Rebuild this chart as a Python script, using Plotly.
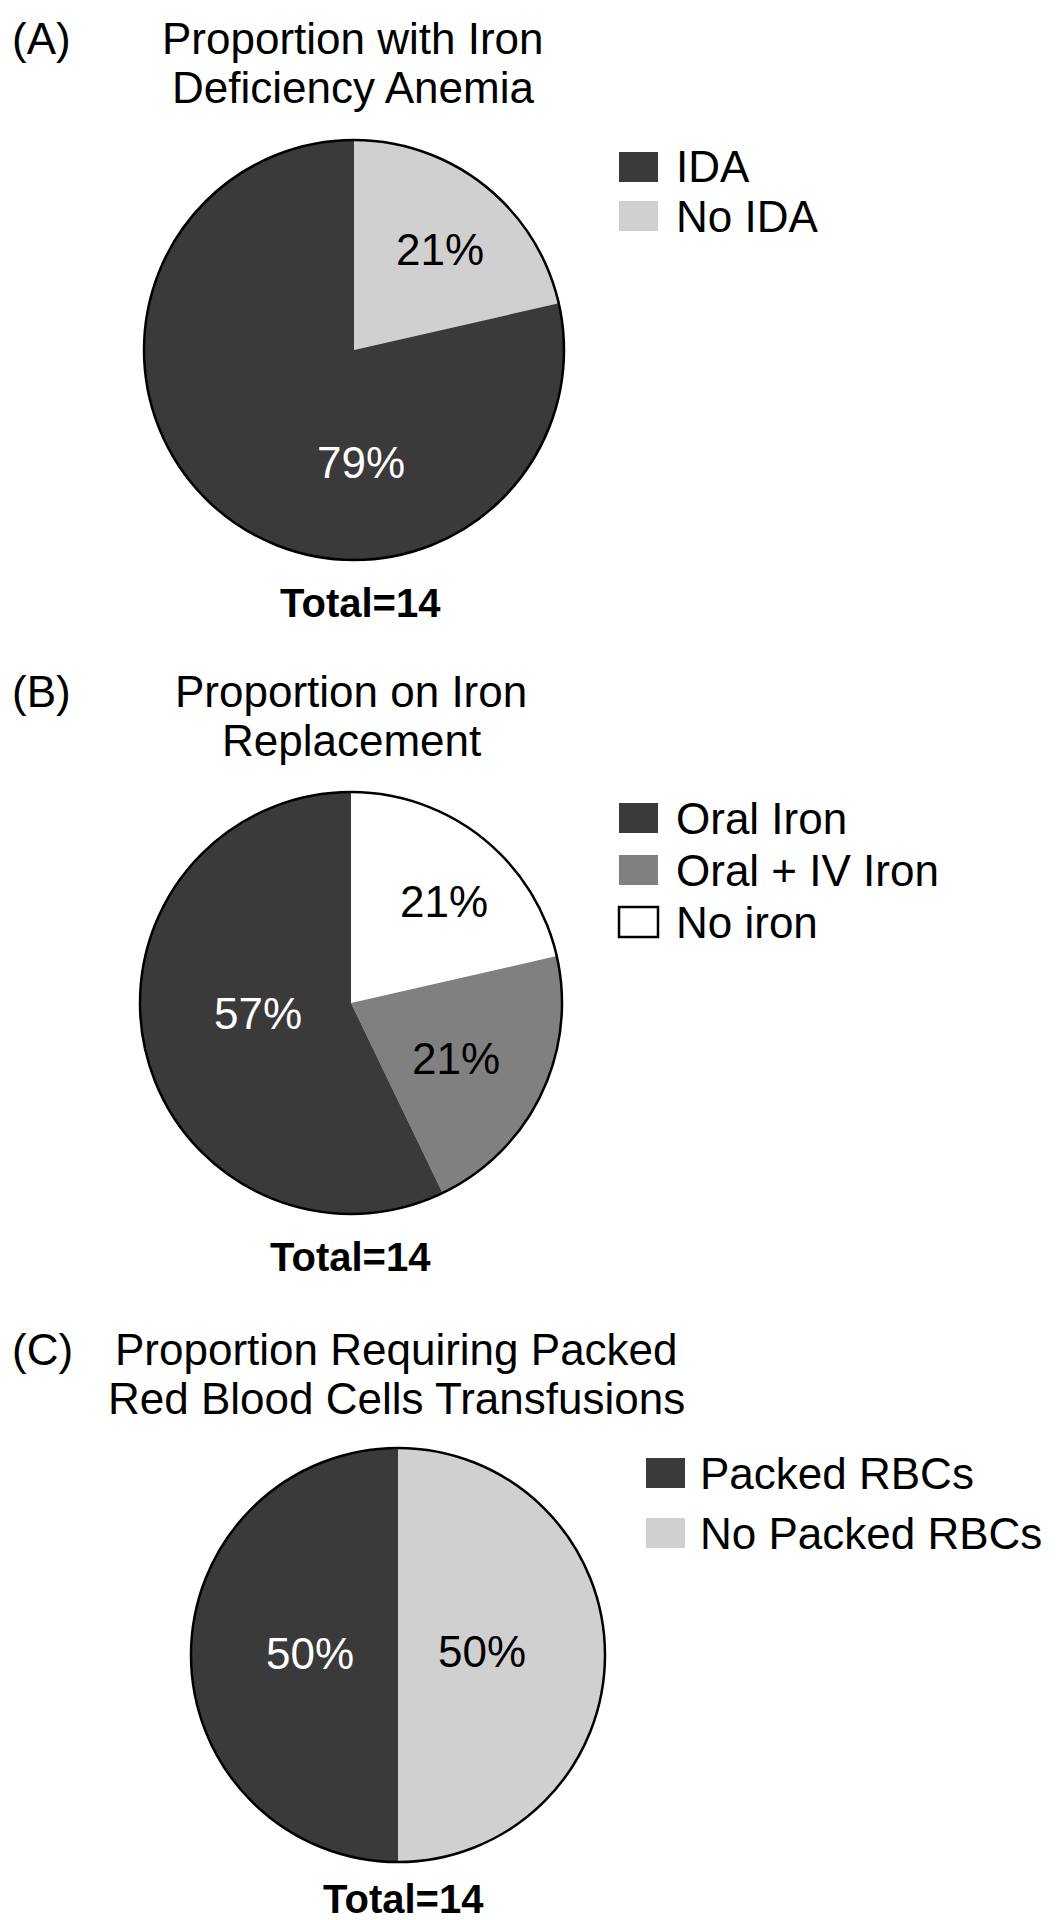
import plotly.graph_objects as go

W, H = 1058, 1920
FONT = "Liberation Sans, Arial, Helvetica, sans-serif"

# ---------------- data ----------------
a_labels = ["IDA", "No IDA"]
a_values = [11, 3]
a_colors = ["#3a3a3a", "#d0d0d0"]
a_textcolors = ["white", "black"]

b_labels = ["Oral Iron", "Oral + IV Iron", "No iron"]
b_values = [8, 3, 3]
b_colors = ["#3a3a3a", "#808080", "#ffffff"]
b_textcolors = ["white", "black", "black"]

c_labels = ["Packed RBCs", "No Packed RBCs"]
c_values = [7, 7]
c_colors = ["#3a3a3a", "#d0d0d0"]
c_textcolors = ["white", "black"]

panel_tags = ["(A)", "(B)", "(C)"]
panel_titles = [
    ["Proportion with Iron", "Deficiency Anemia"],
    ["Proportion on Iron", "Replacement"],
    ["Proportion Requiring Packed", "Red Blood Cells Transfusions"],
]
totals = ["Total=14", "Total=14", "Total=14"]

# ---------------- layout (pixel positions, not data) ----------------
layout_cfg = [
    dict(cx=346, cy=342, r=210, tcx=345, ty=[31, 80], lx=611, ly=[159, 208], ltx=666,
         lab=[(353, 455), (432, 242)], tot=(352, 595)),
    dict(cx=343, cy=995, r=211, tcx=343, ty=[683, 732], lx=611, ly=[810, 862, 914], ltx=666,
         lab=[(250, 1005), (448, 1050), (436, 893)], tot=(342, 1249)),
    dict(cx=390, cy=1647, r=207, tcx=388, ty=[1341, 1390], lx=638, ly=[1465, 1525], ltx=690,
         lab=[(302, 1645), (474, 1643)], tot=(395, 1891)),
]

series = [
    (a_labels, a_values, a_colors, a_textcolors),
    (b_labels, b_values, b_colors, b_textcolors),
    (c_labels, c_values, c_colors, c_textcolors),
]


def px(x):
    return x / W


def py(y):
    return 1 - y / H


fig = go.Figure()
annotations = []
shapes = []

for i, ((labels, values, colors, tcols), cfg) in enumerate(zip(series, layout_cfg)):
    dom = dict(x=[px(cfg["cx"] - cfg["r"]), px(cfg["cx"] + cfg["r"])],
               y=[py(cfg["cy"] + cfg["r"]), py(cfg["cy"] - cfg["r"])])
    # slices go clockwise from 12 o'clock starting with the last category
    fig.add_trace(go.Pie(
        labels=labels[::-1], values=values[::-1], sort=False, direction="clockwise", rotation=0,
        marker=dict(colors=colors[::-1], line=dict(width=0)),
        textinfo="none", domain=dom, showlegend=False, hoverinfo="label+percent",
    ))
    # outer border ring
    fig.add_trace(go.Pie(
        values=[1], labels=[""], sort=False, textinfo="none",
        marker=dict(colors=["rgba(0,0,0,0)"], line=dict(color="black", width=2.5)),
        domain=dom, showlegend=False, hoverinfo="skip",
    ))
    # percentage labels (text computed from the values)
    total = sum(values)
    for v, tc, (lx_, ly_) in zip(values, tcols, cfg["lab"]):
        annotations.append(dict(text="%d%%" % round(100 * v / total), x=px(lx_), y=py(ly_),
                                xanchor="center", yanchor="middle",
                                font=dict(family=FONT, size=44, color=tc)))
    # panel tag and title
    annotations.append(dict(text=panel_tags[i], x=px(2), y=py(cfg["ty"][0]), xanchor="left", yanchor="middle",
                            font=dict(family=FONT, size=44, color="black")))
    for line, yy in zip(panel_titles[i], cfg["ty"]):
        annotations.append(dict(text=line, x=px(cfg["tcx"]), y=py(yy), xanchor="center", yanchor="middle",
                                font=dict(family=FONT, size=44, color="black")))
    # total
    tx, ty = cfg["tot"]
    annotations.append(dict(text="<b>%s</b>" % totals[i], x=px(tx), y=py(ty), xanchor="center",
                            yanchor="middle", font=dict(family=FONT, size=40, color="black")))
    # legend
    for lab, col, yy in zip(labels, colors, cfg["ly"]):
        border = col.lower() == "#ffffff"
        shapes.append(dict(type="rect", xref="paper", yref="paper",
                           x0=px(cfg["lx"]), x1=px(cfg["lx"] + 39), y0=py(yy + 15), y1=py(yy - 15),
                           fillcolor=col, line=dict(color="black", width=2.5 if border else 0)))
        annotations.append(dict(text=lab, x=px(cfg["ltx"]), y=py(yy), xanchor="left", yanchor="middle",
                                font=dict(family=FONT, size=44, color="black")))

for a in annotations:
    a.update(xref="paper", yref="paper", showarrow=False)

fig.update_layout(
    width=W, height=H, margin=dict(l=0, r=0, t=0, b=0),
    paper_bgcolor="white", plot_bgcolor="white",
    annotations=annotations, shapes=shapes, showlegend=False,
)

fig.write_html("out.html")
